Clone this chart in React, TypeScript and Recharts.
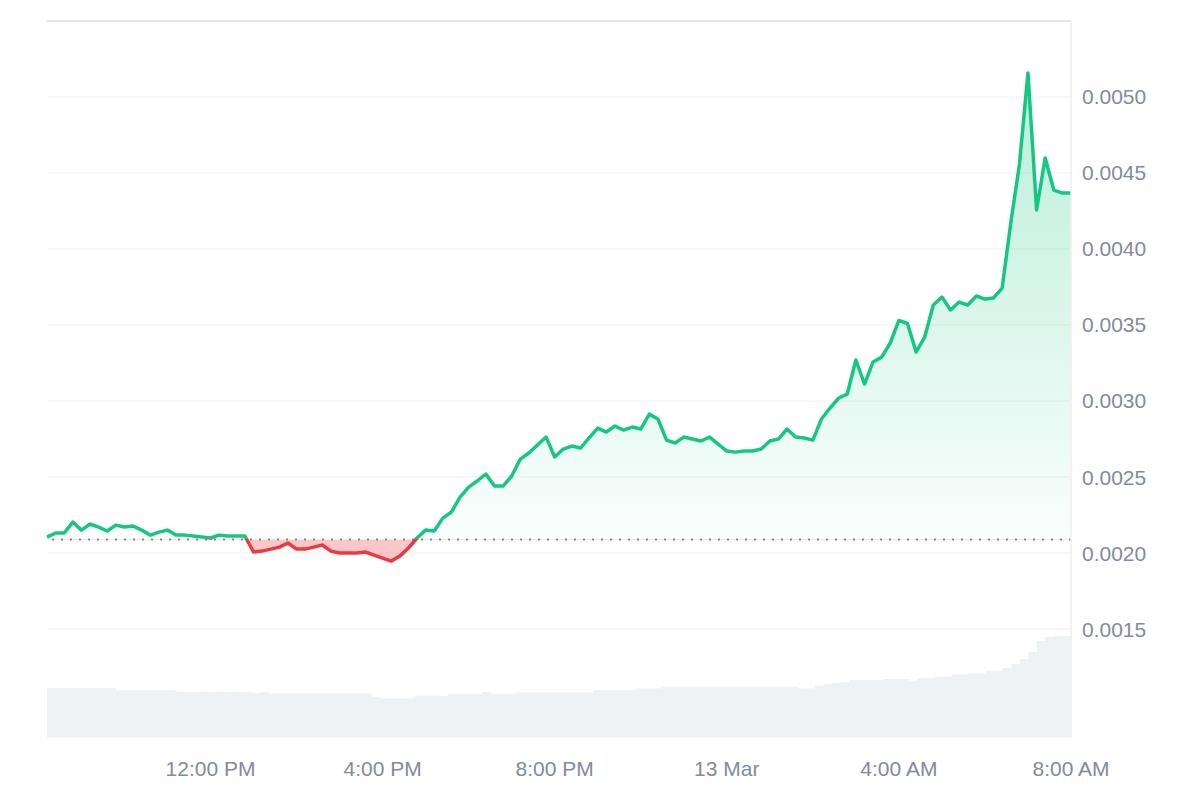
import { ComposedChart, Line, Area, Bar, XAxis, YAxis, CartesianGrid, ReferenceLine } from 'recharts'

// time in minutes from 12 Mar 00:00, one point every 12 minutes
const START_MIN = 492
const STEP_MIN = 12
const BASE_PRICE = 0.00209

const PRICES = [
  0.002105, 0.002132, 0.002132, 0.002204, 0.002151, 0.002191, 0.002171, 0.002145, 0.002184, 0.002171,
  0.002178, 0.002151, 0.002118, 0.002138, 0.002151, 0.002118, 0.002118, 0.002112, 0.002105, 0.002099,
  0.002118, 0.002112, 0.002112, 0.002112, 0.002007, 0.002013, 0.002026, 0.002039, 0.002066, 0.002026,
  0.002026, 0.002039, 0.002053, 0.002013, 0.002, 0.002, 0.002, 0.002007, 0.001987, 0.001967,
  0.001947, 0.00198, 0.002033, 0.002099, 0.002151, 0.002145, 0.00223, 0.00227, 0.002368, 0.002434,
  0.002474, 0.00252, 0.002441, 0.002441, 0.002507, 0.002618, 0.002658, 0.002711, 0.002763, 0.002632,
  0.002684, 0.002704, 0.002691, 0.002757, 0.002822, 0.002796, 0.002836, 0.002809, 0.002829, 0.002816,
  0.002914, 0.002882, 0.002743, 0.002724, 0.002763, 0.00275, 0.002737, 0.002763, 0.002717, 0.002671,
  0.002664, 0.002671, 0.002671, 0.002684, 0.002737, 0.00275, 0.002816, 0.002763, 0.002757, 0.002743,
  0.002882, 0.002954, 0.00302, 0.003046, 0.00327, 0.003112, 0.003257, 0.003289, 0.003382, 0.00353,
  0.00351, 0.003322, 0.003421, 0.003632, 0.003684, 0.003599, 0.003651, 0.003632, 0.003691, 0.003671,
  0.003678, 0.003743, 0.004171, 0.004553, 0.005158, 0.004257, 0.004599, 0.004388, 0.004368, 0.004368,
]

// 24h volume, millions
const VOLUMES = [
  0.98, 0.98, 0.98, 0.98, 0.98, 0.98, 0.98, 0.98, 0.94, 0.94,
  0.94, 0.94, 0.94, 0.94, 0.94, 0.906, 0.906, 0.906, 0.906, 0.906,
  0.906, 0.906, 0.906, 0.906, 0.874, 0.9, 0.874, 0.874, 0.874, 0.874,
  0.874, 0.874, 0.874, 0.874, 0.874, 0.874, 0.874, 0.874, 0.8, 0.774,
  0.774, 0.774, 0.774, 0.826, 0.826, 0.826, 0.826, 0.86, 0.86, 0.86,
  0.86, 0.9, 0.86, 0.86, 0.86, 0.894, 0.894, 0.894, 0.894, 0.894,
  0.894, 0.894, 0.894, 0.894, 0.94, 0.94, 0.94, 0.94, 0.94, 0.974,
  0.974, 0.974, 1.006, 1.006, 1.006, 1.006, 1.006, 1.006, 1.006, 1.006,
  1.006, 1.006, 1.006, 1.006, 1.006, 1.006, 1.006, 1.006, 0.974, 0.974,
  1.02, 1.06, 1.08, 1.1, 1.14, 1.14, 1.14, 1.14, 1.16, 1.16,
  1.16, 1.126, 1.18, 1.18, 1.206, 1.206, 1.254, 1.254, 1.274, 1.274,
  1.326, 1.326, 1.38, 1.46, 1.56, 1.7, 1.92, 2.0, 2.02, 2.02,
]

const X_TICKS = [720, 960, 1200, 1440, 1680, 1920]
const X_LABELS = ['12:00 PM', '4:00 PM', '8:00 PM', '13 Mar', '4:00 AM', '8:00 AM']
const Y_TICKS = [0.0015, 0.002, 0.0025, 0.003, 0.0035, 0.004, 0.0045, 0.005, 0.0055]

const GREEN = '#16c784'
const RED = '#ea3943'
const TEXT = '#838a9e'
const FONT = '"Liberation Sans", Arial, sans-serif'

const data = PRICES.map((p, i) => ({ t: START_MIN + i * STEP_MIN, price: p, volume: VOLUMES[i] }))
const maxP = Math.max(...PRICES)
const minP = Math.min(...PRICES)
const off = (maxP - BASE_PRICE) / (maxP - minP)

export default function App() {
  const tick = { fill: TEXT, fontSize: 21, fontFamily: FONT }
  return (
    <div style={{ position: 'absolute', left: 0, top: 0, width: 1200, height: 800, background: '#fff' }}>
      <ComposedChart width={1200} height={800} data={data} margin={{ top: 21, right: 0, bottom: 0, left: 47 }} barCategoryGap={0}>
        <defs>
          <linearGradient id="lineGrad" x1="0" y1="0" x2="0" y2="1">
            <stop offset={off} stopColor={GREEN} />
            <stop offset={off} stopColor={RED} />
          </linearGradient>
          <linearGradient id="fillGrad" x1="0" y1="0" x2="0" y2="1">
            <stop offset={0} stopColor={GREEN} stopOpacity={0.3} />
            <stop offset={off} stopColor={GREEN} stopOpacity={0.02} />
            <stop offset={off} stopColor={RED} stopOpacity={0.28} />
            <stop offset={1} stopColor={RED} stopOpacity={0.28} />
          </linearGradient>
        </defs>
        <CartesianGrid xAxisId="time" yAxisId="price" vertical={false} stroke="#efefef" />
        <XAxis xAxisId="time" dataKey="t" type="number" domain={['dataMin', 'dataMax']} ticks={X_TICKS}
          tickFormatter={(v) => X_LABELS[X_TICKS.indexOf(v)] ?? ''} height={63} axisLine={false} tickLine={false}
          tickSize={0} tickMargin={24} tick={tick} interval={0} />
        <XAxis xAxisId="vol" dataKey="t" type="category" hide />
        <YAxis yAxisId="vol" orientation="left" width={0} domain={[0, 14.32]} tick={false} tickLine={false}
          axisLine={{ stroke: '#eeeeee', strokeWidth: 1.5 }} />
        <YAxis yAxisId="price" orientation="right" width={129} domain={[0.00079, 0.0055]} ticks={Y_TICKS}
          tickFormatter={(v) => (v >= 0.0055 ? '' : v.toFixed(4))} axisLine={{ stroke: '#eeeeee', strokeWidth: 1.5 }}
          tickLine={false} tickSize={0} tickMargin={11} tick={tick} interval={0} />
        <Bar xAxisId="vol" yAxisId="vol" dataKey="volume" fill="#eff2f5" isAnimationActive={false} />
        <ReferenceLine xAxisId="time" yAxisId="price" y={0.0055} stroke="#e6e6e6" strokeWidth={2} />
        <Area xAxisId="time" yAxisId="price" type="linear" dataKey="price" baseValue={BASE_PRICE} stroke="none"
          fill="url(#fillGrad)" fillOpacity={1} isAnimationActive={false} activeDot={false} />
        <ReferenceLine xAxisId="time" yAxisId="price" y={BASE_PRICE} stroke="#888888" strokeWidth={2} strokeDasharray="2 7" />
        <Line xAxisId="time" yAxisId="price" type="linear" dataKey="price" stroke="url(#lineGrad)" strokeWidth={3.5}
          strokeLinejoin="round" dot={false} activeDot={false} isAnimationActive={false} />
      </ComposedChart>
    </div>
  )
}
